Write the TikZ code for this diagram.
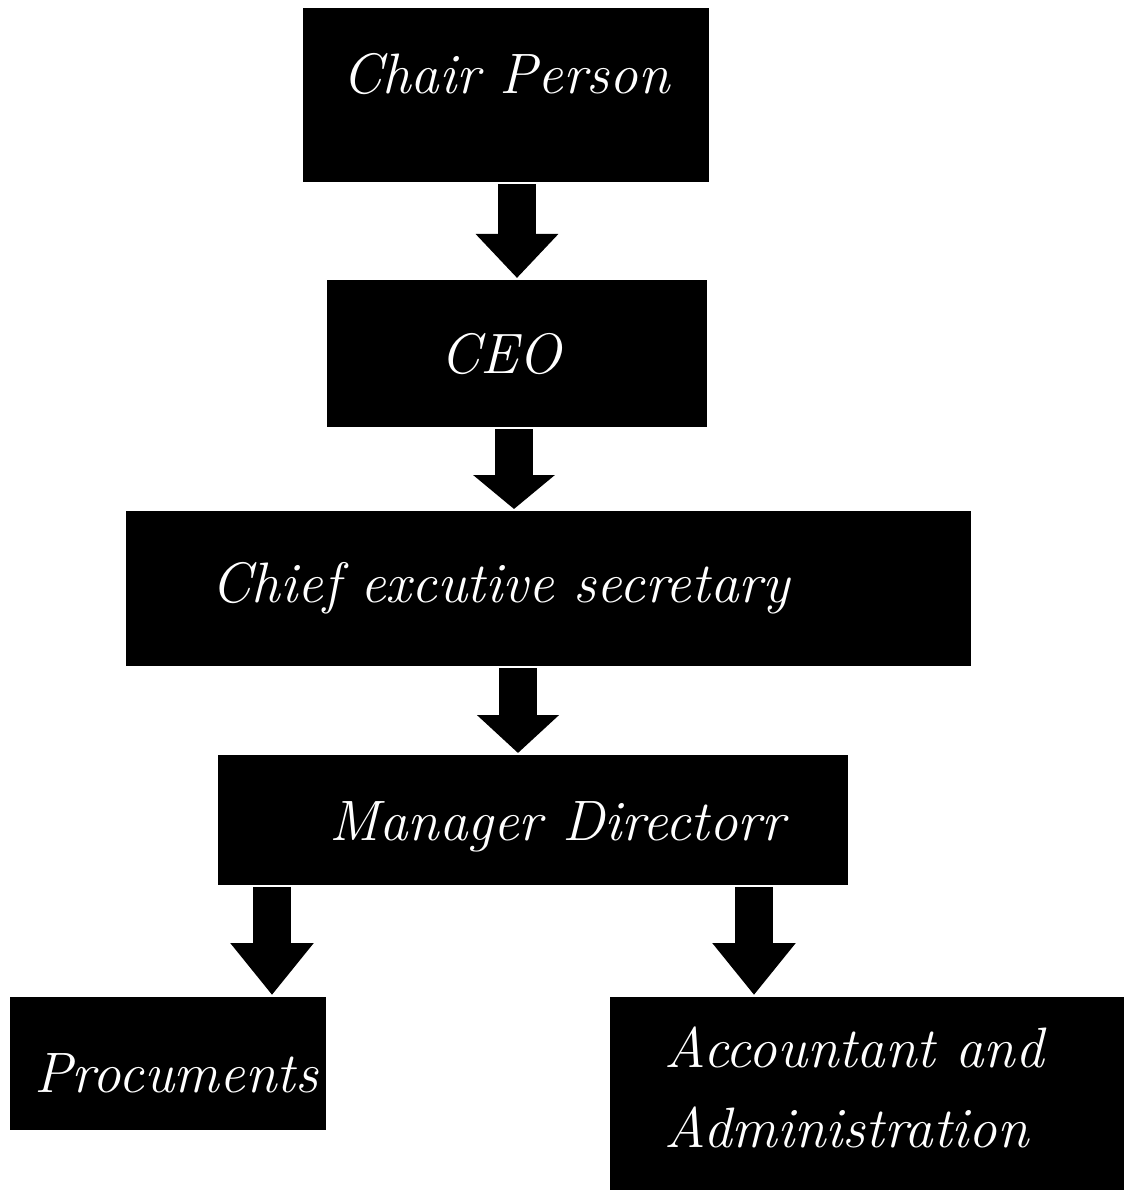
\documentclass[tikz,border=0pt]{standalone}
\usepackage{fontspec}
\usetikzlibrary{arrows.meta}

\tikzset{
  post/.style={fill=black, text=white, inner sep=0pt, anchor=north,
    font=\fontsize{57}{80}\selectfont\itshape},
  bigarrow/.style={line width=38pt, -{Triangle[width=80pt,length=#1]},
    shorten <=2pt, shorten >=2pt},
  bigarrow/.default=42pt
}

\begin{document}
\begin{tikzpicture}[x=1pt,y=-1pt]
        \useasboundingbox (0,0) rectangle (1124,1190);

        \node[post, minimum width=406pt, text height=85pt, text depth=89pt] (chair) at (506,8) {Chair Person};
        \node[post, minimum width=380pt, text height=93pt, text depth=54pt] (ceo) at (517,280) {CEO\hspace*{32pt}};
        \node[post, minimum width=845pt, text height=91pt, text depth=64pt] (ces) at (548.5,511) {Chief excutive secretary\hspace*{96pt}};
        \node[post, minimum width=630pt, text height=85pt, text depth=45pt] (md) at (533,755) {\hspace*{48pt}Manager Directorr};
        \node[post, minimum width=316pt, text height=95pt, text depth=38pt] (proc) at (168,997) {\hspace*{16pt}Procuments};
        \node[post, minimum width=514pt, text height=150pt, text depth=43pt, align=left] (acc) at (867,997)
          {Accountant and\hspace*{26pt}\\Administration};

        % chain of command
        \draw[bigarrow=44pt] ([xshift=11pt]chair.south) -- (ceo.north);
        \draw[bigarrow=34pt] ([xshift=-3pt]ceo.south) -- ([xshift=-3pt]ceo.south |- ces.north);
        \draw[bigarrow=38pt] ([xshift=-15pt]md.north |- ces.south) -- ([xshift=-15pt]md.north);
        \draw[bigarrow=52pt] ([xshift=104pt]proc.north |- md.south) -- ([xshift=104pt]proc.north);
        \draw[bigarrow=52pt] ([xshift=-113pt]acc.north |- md.south) -- ([xshift=-113pt]acc.north);
      \end{tikzpicture}
\end{document}
